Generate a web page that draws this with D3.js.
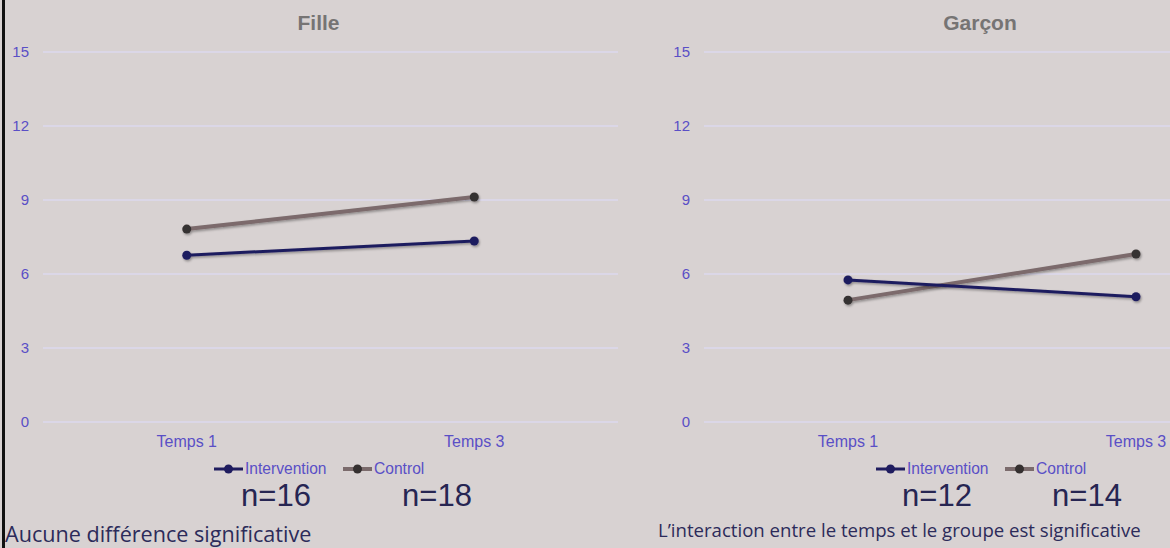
<!DOCTYPE html>
<html>
<head>
<meta charset="utf-8">
<script src="https://cdn.jsdelivr.net/npm/d3@7"></script>
<style>
  body { margin: 0; background: #d8d2d2; }
  svg { display: block; }
</style>
</head>
<body>
<script>
var categories = [ "Temps 1", "Temps 3" ];
var series = [ "Intervention", "Control" ];
var filleIntervention = [ 6.76, 7.34 ];
var filleControl = [ 7.82, 9.12 ];
var garconIntervention = [ 5.76, 5.08 ];
var garconControl = [ 4.94, 6.81 ];
var yTicks = [ 0, 3, 6, 9, 12, 15 ];
var panelTitles = [ "Fille", "Garçon" ];
var filleN = [ "n=16", "n=18" ];
var garconN = [ "n=12", "n=14" ];
var notes = [ "Aucune différence significative", "L’interaction entre le temps et le groupe est significative" ];

var W = 1170, H = 548;
var colors = { Intervention: "#1f1c5f", Control: "#7b6b6c" };
var dotColors = { Intervention: "#1f1c5f", Control: "#353030" };
var widths = { Intervention: 3, Control: 4 };
var tickColor = "#5a4fc6";

var svg = d3.select( "body" ).append( "svg" )
  .attr( "width", W )
  .attr( "height", H );

svg.append( "rect" )
  .attr( "width", W ).attr( "height", H )
  .attr( "fill", "#d8d2d2" );

// soft shadow under the lines
var f = svg.append( "defs" ).append( "filter" )
  .attr( "id", "shadow" )
  .attr( "x", "-10%" ).attr( "y", "-50%" )
  .attr( "width", "120%" ).attr( "height", "200%" );
f.append( "feDropShadow" )
  .attr( "dx", 1 ).attr( "dy", 1.5 )
  .attr( "stdDeviation", 1.2 )
  .attr( "flood-color", "#000" )
  .attr( "flood-opacity", 0.35 );

var y = d3.scaleLinear().domain( [ 0, 15 ] ).range( [ 422, 52 ] );

function drawPanel( opts ) {
  var g = svg.append( "g" );
  var x = d3.scalePoint()
    .domain( categories )
    .range( [ opts.x0, opts.x1 ] )
    .padding( 0.5 );

  // gridlines
  g.selectAll( "line.grid" )
    .data( yTicks )
    .enter().append( "line" )
    .attr( "class", "grid" )
    .attr( "x1", opts.x0 ).attr( "x2", opts.x1 )
    .attr( "y1", function ( d ) { return y( d ); } )
    .attr( "y2", function ( d ) { return y( d ); } )
    .attr( "stroke", "#ddd8ee" )
    .attr( "stroke-width", 1.6 );

  // y labels
  g.selectAll( "text.ytick" )
    .data( yTicks )
    .enter().append( "text" )
    .attr( "class", "ytick" )
    .attr( "x", opts.x0 - 14 )
    .attr( "y", function ( d ) { return y( d ) + 5; } )
    .attr( "text-anchor", "end" )
    .attr( "font-family", "Liberation Sans, Arial, sans-serif" )
    .attr( "font-size", 15 )
    .attr( "fill", tickColor )
    .text( function ( d ) { return d; } );

  // x labels
  g.selectAll( "text.xtick" )
    .data( categories )
    .enter().append( "text" )
    .attr( "class", "xtick" )
    .attr( "x", function ( d ) { return x( d ); } )
    .attr( "y", 447 )
    .attr( "text-anchor", "middle" )
    .attr( "font-family", "Liberation Sans, Arial, sans-serif" )
    .attr( "font-size", 16 )
    .attr( "fill", tickColor )
    .text( function ( d ) { return d; } );

  // title
  g.append( "text" )
    .attr( "x", ( opts.x0 + opts.x1 ) / 2 + opts.titleShift )
    .attr( "y", 30 )
    .attr( "text-anchor", "middle" )
    .attr( "font-family", "Liberation Sans, Arial, sans-serif" )
    .attr( "font-size", 21 )
    .attr( "font-weight", "bold" )
    .attr( "fill", "#767474" )
    .text( opts.title );

  // lines + dots, control drawn first
  var data = [
    { name: "Control", values: opts.control },
    { name: "Intervention", values: opts.intervention }
  ];
  var line = d3.line()
    .x( function ( d, i ) { return x( categories[ i ] ); } )
    .y( function ( d ) { return y( d ); } );

  var s = g.selectAll( "g.series" )
    .data( data )
    .enter().append( "g" )
    .attr( "class", "series" )
    .attr( "filter", "url(#shadow)" );

  s.append( "path" )
    .attr( "d", function ( d ) { return line( d.values ); } )
    .attr( "fill", "none" )
    .attr( "stroke", function ( d ) { return colors[ d.name ]; } )
    .attr( "stroke-width", function ( d ) { return widths[ d.name ]; } );

  s.selectAll( "circle" )
    .data( function ( d ) {
      return d.values.map( function ( v, i ) { return { name: d.name, v: v, i: i }; } );
    } )
    .enter().append( "circle" )
    .attr( "cx", function ( d ) { return x( categories[ d.i ] ); } )
    .attr( "cy", function ( d ) { return y( d.v ); } )
    .attr( "r", 4.5 )
    .attr( "fill", function ( d ) { return dotColors[ d.name ]; } );

  // legend
  var lg = g.selectAll( "g.legend" )
    .data( series )
    .enter().append( "g" )
    .attr( "class", "legend" )
    .attr( "transform", function ( d, i ) {
      return "translate(" + opts.legendX[ i ] + ",469)";
    } );
  lg.append( "line" )
    .attr( "x1", 0 ).attr( "x2", 29 )
    .attr( "stroke", function ( d ) { return colors[ d ]; } )
    .attr( "stroke-width", function ( d ) { return widths[ d ]; } );
  lg.append( "circle" )
    .attr( "cx", 14.5 ).attr( "r", 4.5 )
    .attr( "fill", function ( d ) { return dotColors[ d ]; } );
  lg.append( "text" )
    .attr( "x", 31 ).attr( "y", 5 )
    .attr( "font-family", "Liberation Sans, Arial, sans-serif" )
    .attr( "font-size", 15.6 )
    .attr( "fill", tickColor )
    .text( function ( d ) { return d; } );

  // sample sizes
  g.selectAll( "text.n" )
    .data( opts.n )
    .enter().append( "text" )
    .attr( "class", "n" )
    .attr( "x", function ( d, i ) { return opts.nX[ i ]; } )
    .attr( "y", 506 )
    .attr( "text-anchor", "middle" )
    .attr( "font-family", "Liberation Sans, Arial, sans-serif" )
    .attr( "font-size", 31 )
    .attr( "fill", "#262552" )
    .text( function ( d ) { return d; } );

  g.append( "text" )
    .attr( "x", opts.noteX )
    .attr( "y", opts.noteY )
    .attr( "font-family", "Open Sans, sans-serif" )
    .attr( "font-size", opts.noteSize )
    .attr( "fill", "#2c2b5a" )
    .text( opts.note );
}

drawPanel( {
  x0: 43, x1: 618, title: panelTitles[ 0 ], titleShift: -12,
  intervention: filleIntervention, control: filleControl,
  legendX: [ 214, 343 ], n: filleN, nX: [ 276, 437 ],
  note: notes[ 0 ], noteX: 5, noteY: 542, noteSize: 21.6
} );

drawPanel( {
  x0: 704, x1: 1280, title: panelTitles[ 1 ], titleShift: -12,
  intervention: garconIntervention, control: garconControl,
  legendX: [ 876, 1005 ], n: garconN, nX: [ 937, 1087 ],
  note: notes[ 1 ], noteX: 658, noteY: 537, noteSize: 18.6
} );

// left border
svg.append( "rect" )
  .attr( "x", 2 ).attr( "y", 0 )
  .attr( "width", 3 ).attr( "height", H )
  .attr( "fill", "#111" );
</script>
</body>
</html>
